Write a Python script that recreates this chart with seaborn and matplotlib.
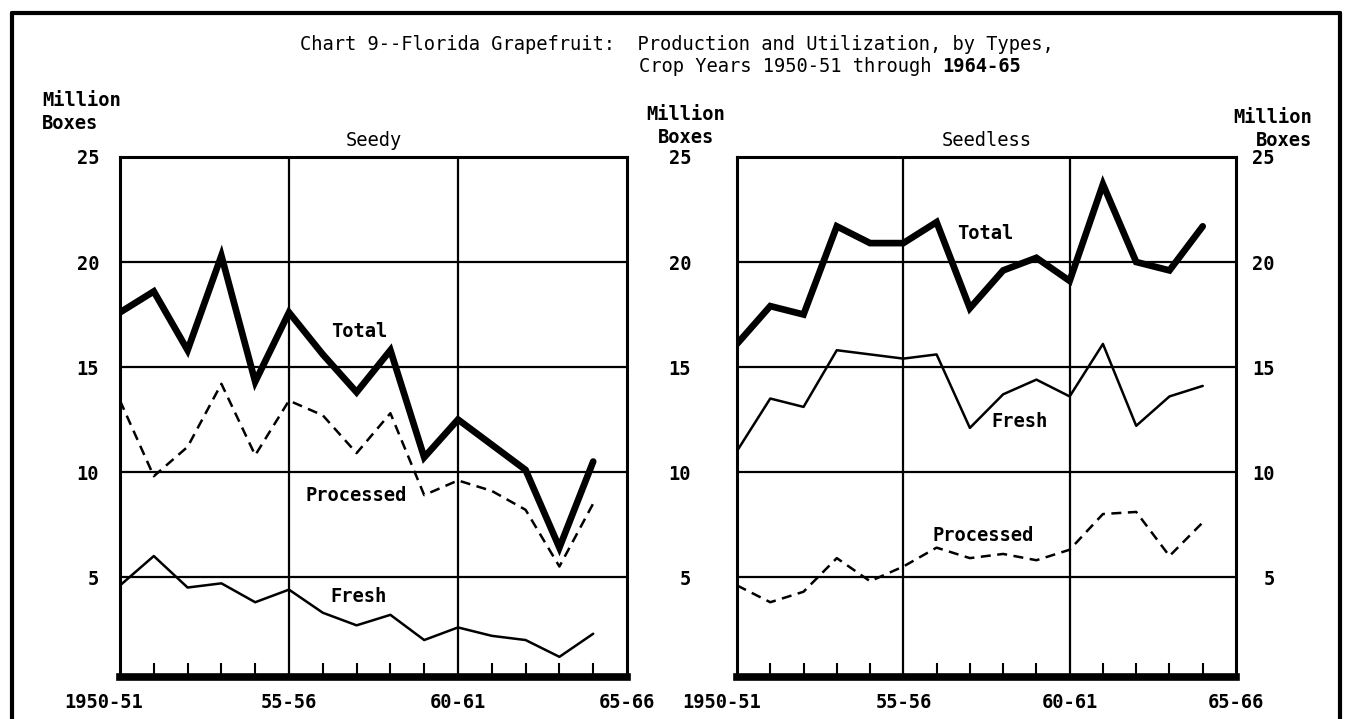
import numpy as np
import pandas as pd
import seaborn as sns
import matplotlib
matplotlib.use("Agg")
from matplotlib import pyplot as plt
from matplotlib.lines import Line2D

# crop years 1950-51 .. 1964-65 (plotted at the first year)
years = list(range(1950, 1965))

seedy_total = [17.6, 18.6, 15.8, 20.3, 14.3, 17.6, 15.6, 13.8, 15.8, 10.7, 12.5, 11.3, 10.1, 6.4, 10.5]
seedy_processed = [13.4, 9.8, 11.2, 14.2, 10.8, 13.4, 12.7, 10.9, 12.8, 8.9, 9.6, 9.1, 8.2, 5.5, 8.5]
seedy_fresh = [4.6, 6.0, 4.5, 4.7, 3.8, 4.4, 3.3, 2.7, 3.2, 2.0, 2.6, 2.2, 2.0, 1.2, 2.3]

seedless_total = [16.1, 17.9, 17.5, 21.7, 20.9, 20.9, 21.9, 17.8, 19.6, 20.2, 19.1, 23.7, 20.0, 19.6, 21.7]
seedless_fresh = [11.0, 13.5, 13.1, 15.8, 15.6, 15.4, 15.6, 12.1, 13.7, 14.4, 13.6, 16.1, 12.2, 13.6, 14.1]
seedless_processed = [4.6, 3.8, 4.3, 5.9, 4.8, 5.5, 6.4, 5.9, 6.1, 5.8, 6.3, 8.0, 8.1, 6.0, 7.6]

tick_years = [1950, 1955, 1960, 1965]
tick_labels = ["1950-51", "55-56", "60-61", "65-66"]
y_ticks = [5, 10, 15, 20, 25]
y_labels = ["5", "10", "15", "20", "25"]

sns.set_style("white")
plt.rcParams["font.family"] = ["DejaVu Sans Mono"]
for key in ["text.color", "axes.labelcolor", "xtick.color", "ytick.color", "axes.edgecolor"]:
    plt.rcParams[key] = "black"
FS = 13.5

W, H = 1346, 719
fig = plt.figure(figsize=(W / 100, H / 100), dpi=100)
ax1 = fig.add_axes([120 / W, (H - 677) / H, 507 / W, 520 / H])
ax2 = fig.add_axes([737 / W, (H - 677) / H, 499 / W, 520 / H])


def draw_panel(ax, total, processed, fresh, title, label_pos):
    df = pd.DataFrame({"year": years, "Total": total, "Processed": processed, "Fresh": fresh})
    sns.lineplot(data=df, x="year", y="Total", ax=ax, color="black", lw=4.8,
                 solid_joinstyle="miter")
    sns.lineplot(data=df, x="year", y="Processed", ax=ax, color="black", lw=1.8,
                 linestyle=(0, (4, 2.6)))
    sns.lineplot(data=df, x="year", y="Fresh", ax=ax, color="black", lw=1.8)
    ax.set_xlim(1950, 1965)
    ax.set_ylim(0.24, 25)
    for v in y_ticks[:-1]:
        ax.axhline(v, color="black", lw=1.6, zorder=1)
    for v in tick_years[1:-1]:
        ax.axvline(v, color="black", lw=1.6, zorder=1)
    for sp in ax.spines.values():
        sp.set_color("black")
        sp.set_linewidth(2.2)
    ax.spines["bottom"].set_linewidth(5.5)
    ax.set_xlabel("")
    ax.set_ylabel("")
    ax.set_xticks(tick_years, [])
    ax.set_xticks(years[1:], minor=True)
    ax.tick_params(axis="x", which="minor", bottom=True, direction="in",
                   length=10, width=1.5, color="black")
    ax.tick_params(axis="x", which="major", length=0)
    for i, (yr, lab) in enumerate(zip(tick_years, tick_labels)):
        shift = -0.47 if i == 0 else 0
        ax.text(yr + shift, -0.05, lab, transform=ax.get_xaxis_transform(),
                ha="center", va="center", fontsize=FS, fontweight="bold")
    ax.set_title(title, fontsize=FS, pad=8, color="black")
    for name, (x, y) in label_pos.items():
        ax.text(x, y, name, ha="center", va="center", fontsize=FS, fontweight="bold")


draw_panel(ax1, seedy_total, seedy_processed, seedy_fresh, "Seedy",
           {"Total": (1957.07, 16.7), "Processed": (1957.0, 8.87), "Fresh": (1957.07, 4.05)})
draw_panel(ax2, seedless_total, seedless_processed, seedless_fresh, "Seedless",
           {"Total": (1957.45, 21.35), "Processed": (1957.4, 6.98), "Fresh": (1958.5, 12.4)})

# y labels: left of seedy, between panels, right of seedless
ax1.set_yticks(y_ticks, y_labels, fontsize=FS, fontweight="bold")
ax1.tick_params(axis="y", length=0, pad=15)
ax2.set_yticks(y_ticks, y_labels, fontsize=FS, fontweight="bold")
ax2.tick_params(axis="y", length=0, pad=33)
ax3 = ax2.twinx()
ax3.set_ylim(ax2.get_ylim())
ax3.set_yticks(y_ticks, y_labels, fontsize=FS, fontweight="bold", ha="right")
ax3.tick_params(axis="y", length=0, pad=28)
for sp in ax3.spines.values():
    sp.set_visible(False)

# unit captions
fig.text(42 / W, 1 - 112 / H, "Million\nBoxes", ha="left", va="center",
         fontsize=FS, fontweight="bold", linespacing=1.25)
fig.text(686 / W, 1 - 126 / H, "Million\nBoxes", ha="center", va="center",
         fontsize=FS, fontweight="bold", linespacing=1.25, multialignment="center")
fig.text(1312 / W, 1 - 129 / H, "Million\nBoxes", ha="right", va="center",
         fontsize=FS, fontweight="bold", linespacing=1.25, multialignment="right")

# chart title
fig.text(300 / W, 1 - 45 / H, "Chart 9--Florida Grapefruit:  Production and Utilization, by Types,",
         ha="left", va="center", fontsize=FS)
t2 = fig.text((300 + 30 * 11.29) / W, 1 - 66 / H, "Crop Years 1950-51 through ",
              ha="left", va="center", fontsize=FS)
ax1.annotate("1964-65", xy=(1, 0), xycoords=t2, ha="left", va="bottom",
             fontsize=FS, fontweight="bold", annotation_clip=False)

# page frame
fr = dict(transform=fig.transFigure, color="black", lw=3)
fig.add_artist(Line2D([12 / W, 1340 / W], [1 - 13 / H, 1 - 13 / H], **fr))
fig.add_artist(Line2D([12 / W, 12 / W], [0, 1 - 13 / H], **fr))
fig.add_artist(Line2D([1340 / W, 1340 / W], [0, 1 - 13 / H], **fr))

fig.savefig("out.png", dpi=100)
